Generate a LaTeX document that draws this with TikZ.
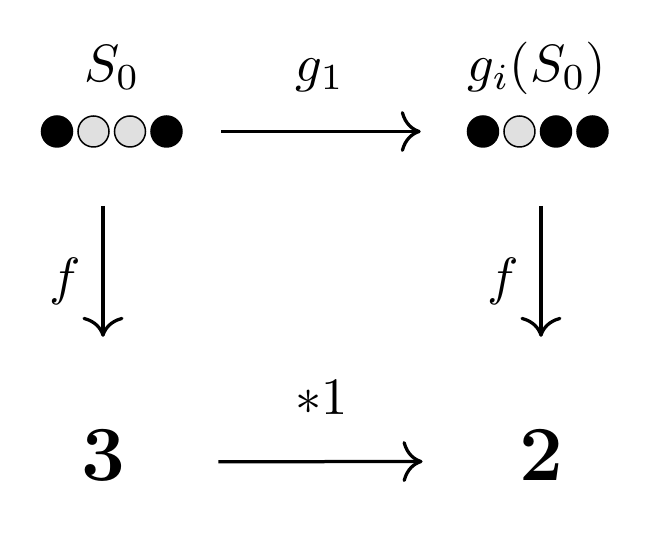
\RequirePackage{fix-cm}
\documentclass[tikz,border=0pt]{standalone}
\usetikzlibrary{positioning,arrows.meta}
\definecolor{dotgray}{gray}{0.88}
\tikzset{
  dot/.style      = {circle,draw,line width=0.3pt,minimum size=6.2pt,inner sep=0pt},
  lab/.style      = {anchor=base,inner sep=0pt,font=\fontsize{10.5}{12}\selectfont},
  num/.style      = {anchor=base,inner sep=0pt,font=\fontsize{15.6}{18}\bfseries},
  cdarrow/.style  = {line width=0.65pt,-{Computer Modern Rightarrow[length=4pt,width=8.2pt]}},
  node distance   = 0.8pt
}
\newcommand{\DrawDots}[6]{%
  % first dot at the given position
  \node[dot,fill=#3] (#1a) at #2 {};
  % the other three dots to its right
  \node[dot,fill=#4,right=of #1a] (#1b) {};
  \node[dot,fill=#5,right=of #1b] (#1c) {};
  \node[dot,fill=#6,right=of #1c] (#1d) {};
}

\begin{document}
\begin{tikzpicture}[x=0.2pt,y=-0.2pt]
    \useasboundingbox (0,0) rectangle (646,544);

    % top row
    \node[lab] (s0) at (112,82) {$S_0$};
    \node[lab] (g1) at (320,82) {$g_1$};
    \node[lab] (gs) at (537,82) {$g_i(S_0)$};

    \DrawDots{l}{(57,131.5)}{black}{dotgray}{dotgray}{black}
    \DrawDots{r}{(483,131.5)}{black}{dotgray}{black}{black}

    \draw[cdarrow,shorten <=7.7pt,shorten >=9.2pt] (ld) -- (ra);

    % bottom row
    \node[num] (n3) at (103,481) {3};
    \node[num] (n2) at (541,481) {2};
    \node[lab] (m1) at (322,415) {$*1$};

    \draw[cdarrow,shorten <=18.5pt,shorten >=19.1pt]
      ([yshift=-1.2pt]n3.east) -- ([yshift=-1.2pt]n2.west);

    % vertical maps
    \coordinate (fl) at (103,206);
    \coordinate (fr) at (541,206);
    \draw[cdarrow,shorten >=18.4pt] (fl) -- (n3);
    \draw[cdarrow,shorten >=18.4pt] (fr) -- (n2);

    \node[lab,anchor=center] (f1) at (65,281) {$f$};
    \node[lab,anchor=center] (f2) at (503,281) {$f$};
  \end{tikzpicture}
\end{document}
